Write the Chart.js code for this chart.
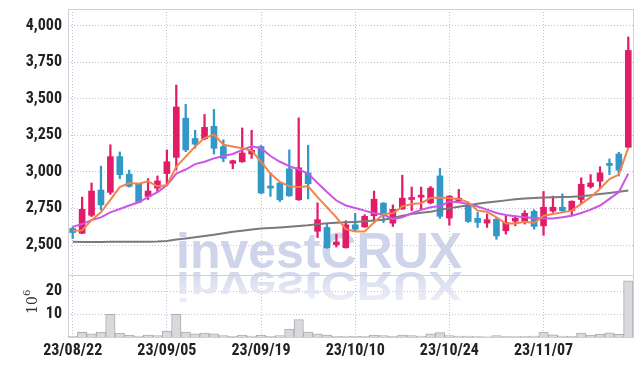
<!DOCTYPE html>
<html><head><meta charset="utf-8">
<script src="https://cdn.jsdelivr.net/npm/chart.js@4.4.1/dist/chart.umd.min.js"></script>
<style>html,body{margin:0;padding:0;background:#fff}canvas{display:block}</style>
</head><body>
<canvas id="c" width="642" height="366"></canvas>
<script>
const dates = ['23/08/22','23/08/23','23/08/24','23/08/25','23/08/28','23/08/29','23/08/30','23/08/31','23/09/01','23/09/04',
'23/09/05','23/09/06','23/09/07','23/09/08','23/09/11','23/09/12','23/09/13','23/09/14','23/09/15','23/09/18',
'23/09/19','23/09/20','23/09/21','23/09/22','23/09/25','23/09/26','23/09/27','23/10/04','23/10/05','23/10/06',
'23/10/10','23/10/11','23/10/12','23/10/13','23/10/16','23/10/17','23/10/18','23/10/19','23/10/20','23/10/23',
'23/10/24','23/10/25','23/10/26','23/10/27','23/10/30','23/10/31','23/11/01','23/11/02','23/11/03','23/11/06',
'23/11/07','23/11/08','23/11/09','23/11/10','23/11/13','23/11/14','23/11/15','23/11/16','23/11/17','23/11/20'];

const openP  = [2613,2580,2703,2876,2860,3104,2984,2919,2832,2889, 2988,3099,3367,3228,3226,3311,3173,3058,3069,3122,
                3173,2896,2924,3021,2809,2993,2594,2620,2502,2481, 2638,2624,2700,2786,2649,2746,2811,2827,2788,2972,
                2684,2799,2770,2682,2650,2677,2597,2663,2661,2730, 2631,2732,2758,2735,2811,2899,2936,3051,3122,3168];
const highP  = [2624,2827,2924,3039,3185,3136,3012,2922,2954,2972, 3150,3593,3461,3284,3392,3427,3219,3080,3300,3284,
                3180,2993,2926,3150,3369,3182,2788,2643,2574,2666, 2717,2707,2869,2790,2774,2977,2896,2896,2900,3023,
                2836,2880,2772,2723,2712,2680,2700,2700,2735,2741, 2866,2834,2850,2802,2959,2981,3035,3088,3134,3922];
const lowP   = [2544,2578,2694,2739,2846,2954,2896,2788,2811,2862, 2908,3012,3138,3161,3219,3122,3069,3021,3065,3092,
                2850,2832,2797,2832,2805,2815,2551,2478,2486,2479, 2597,2620,2654,2654,2627,2744,2735,2746,2781,2682,
                2636,2797,2654,2620,2620,2539,2574,2631,2643,2608, 2566,2723,2728,2705,2781,2889,2885,2981,2972,3165];
const closeP = [2585,2744,2869,2774,3104,2981,2901,2792,2869,2938, 3069,3443,3150,3189,3304,3161,3092,3076,3129,3147,
                2855,2889,2809,2836,3028,2919,2673,2481,2521,2638, 2608,2696,2813,2712,2744,2820,2822,2839,2889,2696,
                2834,2820,2661,2654,2673,2562,2654,2682,2717,2627, 2758,2758,2735,2799,2915,2924,2993,3044,3011,3830];

const ma5    = [2597,2600,2670,2723,2808,2896,2924,2919,2935,2901, 2908,3035,3104,3173,3231,3254,3185,3173,3161,3145,
                3069,2988,2931,2901,2896,2901,2827,2758,2689,2608, 2592,2592,2654,2712,2717,2763,2781,2786,2822,2824,
                2820,2815,2792,2735,2728,2689,2647,2647,2659,2650, 2700,2712,2723,2735,2781,2827,2885,2950,2981,3166];
const ma20   = [2624,2643,2670,2689,2723,2746,2770,2792,2827,2862, 2908,2988,3016,3053,3069,3092,3108,3122,3150,3175,
                3161,3108,3069,3039,3016,2988,2924,2862,2804,2770, 2753,2735,2717,2708,2677,2689,2717,2740,2758,2766,
                2797,2792,2781,2763,2742,2719,2705,2696,2689,2684, 2682,2682,2689,2700,2719,2742,2770,2815,2862,2988];
const maLong = [2522,2521,2521,2521,2522,2523,2523,2523,2523,2524, 2527,2538,2545,2553,2562,2570,2580,2590,2598,2606,
                2612,2616,2620,2625,2630,2635,2642,2648,2652,2655, 2658,2662,2667,2672,2685,2700,2712,2720,2728,2740,
                2752,2762,2772,2782,2790,2798,2805,2812,2818,2822, 2825,2827,2828,2830,2834,2840,2848,2856,2864,2873];
const volume = [0.3,2.1,1.4,2.2,10.0,1.7,0.8,0.4,0.8,0.6, 2.6,10.0,2.2,1.4,1.7,1.4,0.6,0.3,0.8,0.4,
                0.8,0.3,0.6,3.5,7.6,2.2,1.4,0.8,0.3,0.4, 0.3,0.3,0.8,0.6,0.3,0.8,0.6,0.4,1.4,1.9,
                0.6,0.4,0.4,0.2,0.1,0.6,0.2,0.2,0.3,0.4, 2.2,1.0,0.4,0.3,1.7,0.8,1.2,1.8,1.2,24.6];

const priceTicks = [2500,2750,3000,3250,3500,3750,4000];
const volumeTicks = [10,20];

const RED = '#e31c68', BLUE = '#3298c8';
const candleColor = closeP.map((c,i)=> c >= openP[i] ? RED : BLUE);

function hasFont(f){
  const c = document.createElement('canvas').getContext('2d');
  const s = '23/08/22 4,000 mmWi';
  c.font = 'bold 16px monospace'; const w0 = c.measureText(s).width;
  c.font = 'bold 16px "' + f + '", monospace'; return Math.abs(c.measureText(s).width - w0) > 0.5;
}
let tickFont = {family:'"Liberation Sans",sans-serif', weight:'bold', size:14.5};
for (const f of ['Roboto Condensed','Liberation Sans Narrow','Arial Narrow','Open Sans Condensed','Noto Sans Condensed']) {
  if (hasFont(f)) { tickFont = {family:'"'+f+'",sans-serif', weight:'bold', size:16}; break; }
}
const GRID = 'rgba(185,185,210,0.9)';

const decor = {
  id:'decor',
  beforeDatasetsDraw(chart){
    const ctx = chart.ctx, a = chart.chartArea;
    const sep = chart.scales.y2.top;
    ctx.save();
    ctx.font = 'bold 50px "Liberation Sans"';
    ctx.fillStyle = 'rgba(198,204,230,0.85)';
    ctx.fillText('investCRUX', 176, 268);
    ctx.translate(0, 272);
    ctx.scale(1, -0.8);
    const g = ctx.createLinearGradient(0, 0, 0, -40);
    g.addColorStop(0, 'rgba(210,214,236,0.95)');
    g.addColorStop(1, 'rgba(225,228,242,0.6)');
    ctx.fillStyle = g;
    ctx.fillText('investCRUX', 176, 0);
    ctx.restore();
    ctx.save();
    ctx.strokeStyle = '#cfcfd6';
    ctx.lineWidth = 1;
    ctx.strokeRect(Math.round(a.left)+0.5, Math.round(a.top)+0.5, Math.round(a.right-a.left), Math.round(a.bottom-a.top));
    ctx.beginPath();
    ctx.moveTo(a.left, Math.round(sep)+0.5);
    ctx.lineTo(a.right, Math.round(sep)+0.5);
    ctx.stroke();
    ctx.restore();
  },
  afterDraw(chart){
    const ctx = chart.ctx;
    ctx.save();
    ctx.translate(37, 305);
    ctx.rotate(-Math.PI/2);
    ctx.fillStyle = '#333';
    ctx.font = '14px "DejaVu Serif"';
    ctx.textAlign = 'center';
    ctx.fillText('10', 0, 0);
    ctx.font = '10px "DejaVu Serif"';
    ctx.textAlign = 'left';
    ctx.fillText('6', 9, -7);
    ctx.restore();
  }
};

const noPad = (s)=>{ s.paddingTop = 0; s.paddingBottom = 0; };

new Chart(document.getElementById('c'), {
  type:'bar',
  data:{
    labels: dates,
    datasets:[
      {type:'line', label:'MA5', data:ma5, yAxisID:'y', borderColor:'#f0844a', borderWidth:2, pointRadius:0, tension:0, order:0},
      {type:'line', label:'MA20', data:ma20, yAxisID:'y', borderColor:'#cc55e6', borderWidth:2, pointRadius:0, tension:0, order:0},
      {type:'line', label:'MA120', data:maLong, yAxisID:'y', borderColor:'#7a7a7a', borderWidth:2, pointRadius:0, tension:0, order:0},
      {type:'bar', label:'wick', data:lowP.map((l,i)=>[l,highP[i]]), yAxisID:'y', backgroundColor:candleColor, barThickness:1.6, grouped:false, order:1},
      {type:'bar', label:'body', data:openP.map((o,i)=>[o,closeP[i]]), yAxisID:'y', backgroundColor:candleColor, barThickness:6, minBarLength:2, grouped:false, order:1},
      {type:'bar', label:'volume', data:volume, yAxisID:'y2', backgroundColor:'#d9d9dc', borderColor:'#acacb0', borderWidth:1, barPercentage:1, categoryPercentage:1, grouped:false, order:2}
    ]
  },
  options:{
    responsive:false, animation:false, devicePixelRatio:1,
    layout:{padding:{left:0,right:9,top:9,bottom:0}},
    plugins:{legend:{display:false}, tooltip:{enabled:false}},
    scales:{
      x:{
        type:'category', offset:true,
        grid:{offset:false, color:GRID, lineWidth:1, drawTicks:false},
        border:{display:false, dash:[1,2]},
        ticks:{autoSkip:false, maxRotation:0, padding:4, color:'#222', font:tickFont},
        afterBuildTicks:(s)=>{ s.ticks = s.ticks.filter(t => t.value % 10 === 0); },
        afterFit:(s)=>{ s.height = 29; s.paddingLeft = 0; s.paddingRight = 0; }
      },
      y2:{
        type:'linear', position:'left', stack:'p', stackWeight:62, min:0, max:27.2,
        grid:{color:GRID, lineWidth:1, drawTicks:false},
        border:{display:false, dash:[1,2]},
        ticks:{padding:6, color:'#222', font:tickFont},
        afterBuildTicks:(s)=>{ s.ticks = volumeTicks.map(v=>({value:v})); },
        afterFit:(s)=>{ s.width = 68; noPad(s); }
      },
      y:{
        type:'linear', position:'left', stack:'p', stackWeight:266, min:2295, max:4113,
        grid:{color:GRID, lineWidth:1, drawTicks:false},
        border:{display:false, dash:[1,2]},
        ticks:{padding:6, color:'#222', font:tickFont, callback:(v)=>v.toLocaleString('en-US')},
        afterBuildTicks:(s)=>{ s.ticks = priceTicks.map(v=>({value:v})); },
        afterFit:(s)=>{ s.width = 68; noPad(s); }
      }
    }
  },
  plugins:[decor]
});
</script>
</body></html>
